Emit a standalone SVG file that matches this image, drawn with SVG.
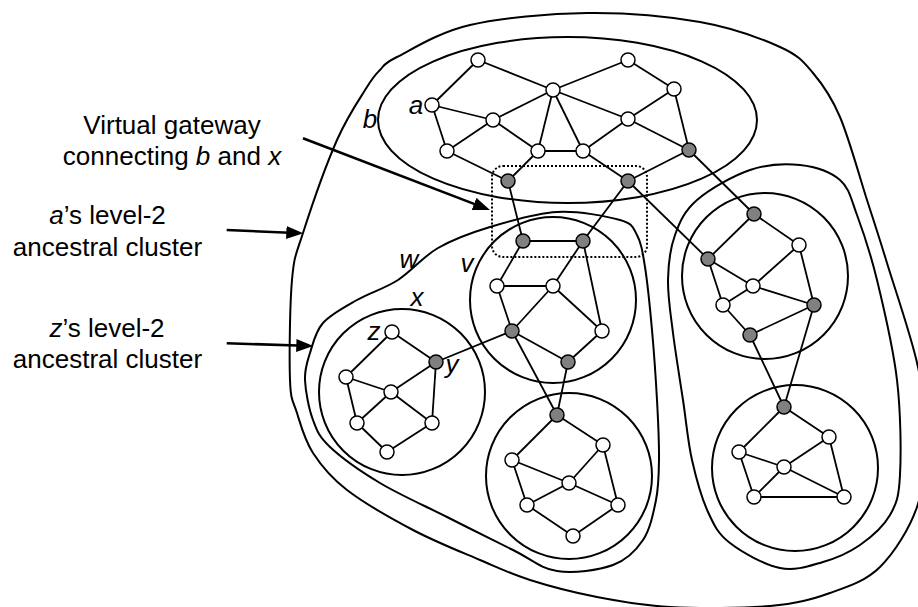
<svg xmlns="http://www.w3.org/2000/svg" width="918" height="607" viewBox="0 0 918 607">
<style>
.cl{fill:none;stroke:#000;stroke-width:2}
.e line{stroke:#000;stroke-width:1.8}
.w{fill:#fff;stroke:#000;stroke-width:1.5}
.g{fill:#808080;stroke:#000;stroke-width:1.5}
.t{font-family:"Liberation Sans",Arial,sans-serif;font-size:26px;fill:#000}
.i{font-style:italic}
.ar{stroke:#000;stroke-width:2.6;fill:none}
</style>
<defs>
<marker id="ah" markerUnits="userSpaceOnUse" markerWidth="18" markerHeight="13" refX="9" refY="6.5" orient="auto">
<path d="M0,0 L17,6.5 L0,13 z" fill="#000"/>
</marker>
</defs>
<rect width="918" height="607" fill="#fff"/>

<g id="clusters">
<path id="outer" class="cl" d="M 587,13 C 625.3,12.5 667.8,16.3 700,22 S 761.2,38.5 780,47 S 803,61.3 813,73 S 831,95.8 840,117 S 859.2,175.7 867,200 S 878.5,235.2 887,263 S 911.8,337.5 918,367 S 924.2,416.7 924,440 S 924.3,485.8 917,507 S 894.5,552.7 880,567 S 848.3,586.5 830,593 S 796.7,603.7 770,606 S 698.8,608.5 670,607 S 620.3,601.5 597,597 S 549.5,586.2 530,580 S 499.5,568.3 480,560 S 435.2,541.7 413,530 S 363.7,502.8 347,490 S 321.3,465.8 313,453 S 300.8,425.2 297,413 S 290.8,402.2 290,380 S 289.8,304.5 292,280 S 295.5,256.3 303,233 S 326.3,164.3 337,140 S 359.8,98.7 367,87 S 375,75 380,70 S 382,64.5 397,57 S 438.3,32.3 470,25 S 548.7,13.5 587,13 Z"/>
<ellipse id="b" class="cl" cx="567.5" cy="120" rx="189.5" ry="83"/>
<path id="w" class="cl" d="M 557,212 C 578.7,210.8 606.7,216.2 620,220 S 632.8,227.2 637,235 S 642.5,251.2 645,267 S 650,307.8 652,330 S 655.8,378.3 657,400 S 659.2,443.3 659,460 S 658.7,486.7 656,500 S 650.2,529.2 643,540 S 627.3,559.8 613,565 S 573.7,573.5 557,571 S 531.3,559 513,550 S 469.2,528.2 447,517 S 399.5,494.7 380,483 S 341.2,457.5 330,447 S 317.2,431.2 313,420 S 305.5,391.2 305,380 S 307,362.5 310,353 S 315.2,331.8 323,323 S 344.5,307.2 357,300 S 384.5,288.7 398,280 S 422.7,256.8 438,248 S 470.2,233 490,227 S 535.3,213.2 557,212 Z"/>
<path id="right" class="cl" d="M 800,165 C 815,166.7 830.5,171.7 840,180 S 850.8,198.3 857,215 S 870.3,252.5 877,280 S 893.2,347.5 897,380 S 901.2,452.5 900,475 S 896.7,503.3 890,515 S 871.2,537.2 860,545 S 836.3,558.2 823,562 S 795.5,571.2 780,568 S 742,552.3 730,543 S 714.3,525.8 708,512 S 696.2,478.7 692,460 S 686.2,421.2 683,400 S 675.5,353 673,333 S 667.7,296.3 668,280 S 670.2,248.3 675,235 S 684.5,210.8 697,200 S 732.8,175.8 750,170 S 785,163.3 800,165 Z"/>
<circle id="x" class="cl" cx="402" cy="392" r="83"/>
<circle id="v" class="cl" cx="553" cy="300" r="83"/>
<circle id="c3" class="cl" cx="569" cy="476" r="83"/>
<circle id="c4" class="cl" cx="765" cy="276" r="83"/>
<circle id="c5" class="cl" cx="795" cy="468" r="83"/>
</g>

<g id="connectors" class="e">
<line x1="478" y1="60" x2="432" y2="105"/>
<line x1="478" y1="60" x2="553" y2="90"/>
<line x1="553" y1="90" x2="628" y2="60"/>
<line x1="628" y1="60" x2="674" y2="89"/>
<line x1="432" y1="105" x2="493" y2="120"/>
<line x1="493" y1="120" x2="553" y2="90"/>
<line x1="432" y1="105" x2="447" y2="151"/>
<line x1="447" y1="151" x2="493" y2="120"/>
<line x1="493" y1="120" x2="538" y2="151"/>
<line x1="553" y1="90" x2="538" y2="151"/>
<line x1="553" y1="90" x2="583" y2="151"/>
<line x1="553" y1="90" x2="628" y2="119"/>
<line x1="538" y1="151" x2="583" y2="151"/>
<line x1="583" y1="151" x2="628" y2="119"/>
<line x1="628" y1="119" x2="674" y2="89"/>
<line x1="628" y1="119" x2="689" y2="150"/>
<line x1="674" y1="89" x2="689" y2="150"/>
<line x1="447" y1="151" x2="508" y2="181"/>
<line x1="538" y1="151" x2="508" y2="181"/>
<line x1="583" y1="151" x2="628" y2="181"/>
<line x1="689" y1="150" x2="628" y2="181"/>
<line x1="689" y1="150" x2="754" y2="214"/>
<line x1="628" y1="181" x2="708" y2="259"/>
<line x1="508" y1="181" x2="523" y2="241"/>
<line x1="628" y1="181" x2="583" y2="241"/>
<line x1="523" y1="241" x2="583" y2="241"/>
<line x1="523" y1="241" x2="497" y2="286"/>
<line x1="583" y1="241" x2="553" y2="286"/>
<line x1="583" y1="241" x2="602" y2="331"/>
<line x1="497" y1="286" x2="553" y2="286"/>
<line x1="497" y1="286" x2="512" y2="331"/>
<line x1="553" y1="286" x2="512" y2="331"/>
<line x1="553" y1="286" x2="602" y2="331"/>
<line x1="512" y1="331" x2="568" y2="362"/>
<line x1="602" y1="331" x2="568" y2="362"/>
<line x1="512" y1="331" x2="436" y2="362"/>
<line x1="512" y1="331" x2="557" y2="415"/>
<line x1="568" y1="362" x2="557" y2="415"/>
<line x1="392" y1="332" x2="436" y2="362"/>
<line x1="392" y1="332" x2="346" y2="377"/>
<line x1="346" y1="377" x2="391" y2="392"/>
<line x1="391" y1="392" x2="436" y2="362"/>
<line x1="346" y1="377" x2="357" y2="423"/>
<line x1="391" y1="392" x2="357" y2="423"/>
<line x1="391" y1="392" x2="432" y2="423"/>
<line x1="436" y1="362" x2="432" y2="423"/>
<line x1="357" y1="423" x2="387" y2="452"/>
<line x1="432" y1="423" x2="387" y2="452"/>
<line x1="557" y1="415" x2="603" y2="445"/>
<line x1="557" y1="415" x2="512" y2="460"/>
<line x1="512" y1="460" x2="569" y2="483"/>
<line x1="603" y1="445" x2="569" y2="483"/>
<line x1="603" y1="445" x2="618" y2="505"/>
<line x1="512" y1="460" x2="527" y2="505"/>
<line x1="527" y1="505" x2="569" y2="483"/>
<line x1="569" y1="483" x2="618" y2="505"/>
<line x1="527" y1="505" x2="573" y2="536"/>
<line x1="618" y1="505" x2="573" y2="536"/>
<line x1="754" y1="214" x2="708" y2="259"/>
<line x1="754" y1="214" x2="799" y2="245"/>
<line x1="708" y1="259" x2="753" y2="286"/>
<line x1="799" y1="245" x2="753" y2="286"/>
<line x1="708" y1="259" x2="723" y2="305"/>
<line x1="723" y1="305" x2="753" y2="286"/>
<line x1="753" y1="286" x2="814" y2="305"/>
<line x1="799" y1="245" x2="814" y2="305"/>
<line x1="723" y1="305" x2="750" y2="335"/>
<line x1="750" y1="335" x2="814" y2="305"/>
<line x1="750" y1="335" x2="784" y2="407"/>
<line x1="814" y1="305" x2="784" y2="407"/>
<line x1="784" y1="407" x2="829" y2="437"/>
<line x1="784" y1="407" x2="739" y2="452"/>
<line x1="739" y1="452" x2="784" y2="467"/>
<line x1="829" y1="437" x2="784" y2="467"/>
<line x1="829" y1="437" x2="844" y2="497"/>
<line x1="739" y1="452" x2="754" y2="497"/>
<line x1="784" y1="467" x2="754" y2="497"/>
<line x1="784" y1="467" x2="844" y2="497"/>
<line x1="754" y1="497" x2="844" y2="497"/>
</g>

<g id="nodes">
<g id="n-t1"><circle class="w" cx="478" cy="60" r="7"/></g>
<g id="n-t2"><circle class="w" cx="628" cy="60" r="7"/></g>
<g id="n-t3"><circle class="w" cx="553" cy="90" r="7"/></g>
<g id="n-t4"><circle class="w" cx="674" cy="89" r="7"/></g>
<g id="n-a"><circle class="w" cx="432" cy="105" r="7"/></g>
<g id="n-t5"><circle class="w" cx="493" cy="120" r="7"/></g>
<g id="n-t6"><circle class="w" cx="628" cy="119" r="7"/></g>
<g id="n-t7"><circle class="w" cx="447" cy="151" r="7"/></g>
<g id="n-t8"><circle class="w" cx="538" cy="151" r="7"/></g>
<g id="n-t9"><circle class="w" cx="583" cy="151" r="7"/></g>
<g id="n-g1"><circle class="g" cx="689" cy="150" r="7"/></g>
<g id="n-g2"><circle class="g" cx="508" cy="181" r="7"/></g>
<g id="n-g3"><circle class="g" cx="628" cy="181" r="7"/></g>
<g id="n-v1"><circle class="g" cx="523" cy="241" r="7"/></g>
<g id="n-v2"><circle class="g" cx="583" cy="241" r="7"/></g>
<g id="n-v3"><circle class="w" cx="497" cy="286" r="7"/></g>
<g id="n-v4"><circle class="w" cx="553" cy="286" r="7"/></g>
<g id="n-v5"><circle class="g" cx="512" cy="331" r="7"/></g>
<g id="n-v6"><circle class="w" cx="602" cy="331" r="7"/></g>
<g id="n-v7"><circle class="g" cx="568" cy="362" r="7"/></g>
<g id="n-z"><circle class="w" cx="392" cy="332" r="7"/></g>
<g id="n-y"><circle class="g" cx="436" cy="362" r="7"/></g>
<g id="n-x1"><circle class="w" cx="346" cy="377" r="7"/></g>
<g id="n-x2"><circle class="w" cx="391" cy="392" r="7"/></g>
<g id="n-x3"><circle class="w" cx="357" cy="423" r="7"/></g>
<g id="n-x4"><circle class="w" cx="432" cy="423" r="7"/></g>
<g id="n-x5"><circle class="w" cx="387" cy="452" r="7"/></g>
<g id="n-b1"><circle class="g" cx="557" cy="415" r="7"/></g>
<g id="n-b2"><circle class="w" cx="603" cy="445" r="7"/></g>
<g id="n-b3"><circle class="w" cx="512" cy="460" r="7"/></g>
<g id="n-b4"><circle class="w" cx="569" cy="483" r="7"/></g>
<g id="n-b5"><circle class="w" cx="527" cy="505" r="7"/></g>
<g id="n-b6"><circle class="w" cx="618" cy="505" r="7"/></g>
<g id="n-b7"><circle class="w" cx="573" cy="536" r="7"/></g>
<g id="n-r1"><circle class="g" cx="754" cy="214" r="7"/></g>
<g id="n-r2"><circle class="w" cx="799" cy="245" r="7"/></g>
<g id="n-r3"><circle class="g" cx="708" cy="259" r="7"/></g>
<g id="n-r4"><circle class="w" cx="753" cy="286" r="7"/></g>
<g id="n-r5"><circle class="w" cx="723" cy="305" r="7"/></g>
<g id="n-r6"><circle class="g" cx="814" cy="305" r="7"/></g>
<g id="n-r7"><circle class="g" cx="750" cy="335" r="7"/></g>
<g id="n-s1"><circle class="g" cx="784" cy="407" r="7"/></g>
<g id="n-s2"><circle class="w" cx="829" cy="437" r="7"/></g>
<g id="n-s3"><circle class="w" cx="739" cy="452" r="7"/></g>
<g id="n-s4"><circle class="w" cx="784" cy="467" r="7"/></g>
<g id="n-s5"><circle class="w" cx="754" cy="497" r="7"/></g>
<g id="n-s6"><circle class="w" cx="844" cy="497" r="7"/></g>
</g>

<g id="gateway">
<rect x="492" y="166" width="155" height="91" rx="11" ry="11" fill="none" stroke="#000" stroke-width="2" stroke-dasharray="2,2"/>
</g>

<g id="labels" class="t i">
<text x="416" y="114" text-anchor="middle">a</text>
<text x="370" y="128" text-anchor="middle">b</text>
<text x="374" y="340" text-anchor="middle">z</text>
<text x="452" y="373" text-anchor="middle">y</text>
<text x="417" y="306" text-anchor="middle">x</text>
<text x="467" y="272" text-anchor="middle">v</text>
<text x="409" y="268" text-anchor="middle">w</text>
</g>

<g id="annotations" class="t">
<text x="172" y="133.5" text-anchor="middle">Virtual gateway</text>
<text x="172" y="165" text-anchor="middle">connecting <tspan class="i">b</tspan> and <tspan class="i">x</tspan></text>
<text x="107.5" y="224" text-anchor="middle"><tspan class="i">a</tspan>’s level-2</text>
<text x="107.5" y="255.5" text-anchor="middle">ancestral cluster</text>
<text x="107" y="337" text-anchor="middle"><tspan class="i">z</tspan>’s level-2</text>
<text x="107.5" y="368" text-anchor="middle">ancestral cluster</text>
</g>

<g id="arrows">
<line class="ar" x1="303" y1="138.3" x2="482.5" y2="207.1" marker-end="url(#ah)"/>
<line class="ar" x1="226.7" y1="230" x2="295.3" y2="233" marker-end="url(#ah)"/>
<line class="ar" x1="226.7" y1="343.3" x2="305.3" y2="345.8" marker-end="url(#ah)"/>
</g>
</svg>
